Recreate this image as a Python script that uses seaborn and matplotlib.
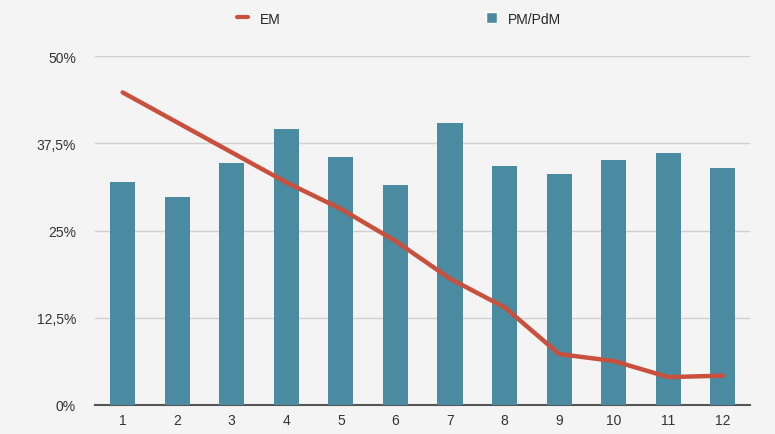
import matplotlib
matplotlib.use("Agg")
import matplotlib.pyplot as plt
import seaborn as sns
import pandas as pd
from matplotlib.lines import Line2D
from matplotlib.patches import Patch

months = [1, 2, 3, 4, 5, 6, 7, 8, 9, 10, 11, 12]
pm_pdm = [31.9, 29.8, 34.7, 39.5, 35.5, 31.5, 40.4, 34.2, 33.1, 35.1, 36.1, 34.0]
em = [44.8, 40.5, 36.2, 31.9, 28.1, 23.5, 18.1, 14.0, 7.3, 6.3, 4.0, 4.2]
ytick_vals = [0, 12.5, 25, 37.5, 50]
ytick_labels = ["0%", "12,5%", "25%", "37,5%", "50%"]

sns.set_theme(style="white")
plt.rcParams['font.family'] = ['Liberation Sans', 'DejaVu Sans']

df = pd.DataFrame({"month": [str(m) for m in months], "PM/PdM": pm_pdm, "EM": em})

fig = plt.figure(figsize=(7.75, 4.35), dpi=100, facecolor="#f4f4f4")
ax = fig.add_axes([0.123, 0.0667, 0.845, 0.802])
ax.set_facecolor("#f4f4f4")

sns.barplot(data=df, x="month", y="PM/PdM", color="#4b8ba1", width=0.46,
            saturation=1, ax=ax, zorder=3, edgecolor="none", linewidth=0)
sns.lineplot(x=list(range(len(months))), y=em, color="#c8503c", linewidth=3.2,
             ax=ax, zorder=4)

ax.set_ylim(0, 50)
ax.set_xlim(-0.5, 11.5)
ax.set_yticks(ytick_vals)
ax.set_yticklabels(ytick_labels, fontsize=10, color="#333333")
ax.tick_params(axis="x", labelsize=10, colors="#333333", length=0, pad=6)
ax.tick_params(axis="y", length=0, pad=14)
ax.yaxis.grid(True, color="#d0d0d0", linewidth=1, zorder=0)
ax.set_xlabel("")
ax.set_ylabel("")
for s in ["top", "right", "left"]:
    ax.spines[s].set_visible(False)
ax.spines["bottom"].set_color("#555555")
ax.spines["bottom"].set_linewidth(1.5)

handles = [Line2D([0], [0], color="#c8503c", linewidth=3),
           Patch(facecolor="#4b8ba1")]
fig.legend(handles, ["EM", "PM/PdM"], loc="upper center", ncol=2,
           bbox_to_anchor=(0.515, 1.0), frameon=False, fontsize=10,
           columnspacing=14.8, handlelength=0.8, handleheight=0.8)

fig.savefig("out.png", dpi=100, facecolor=fig.get_facecolor())
